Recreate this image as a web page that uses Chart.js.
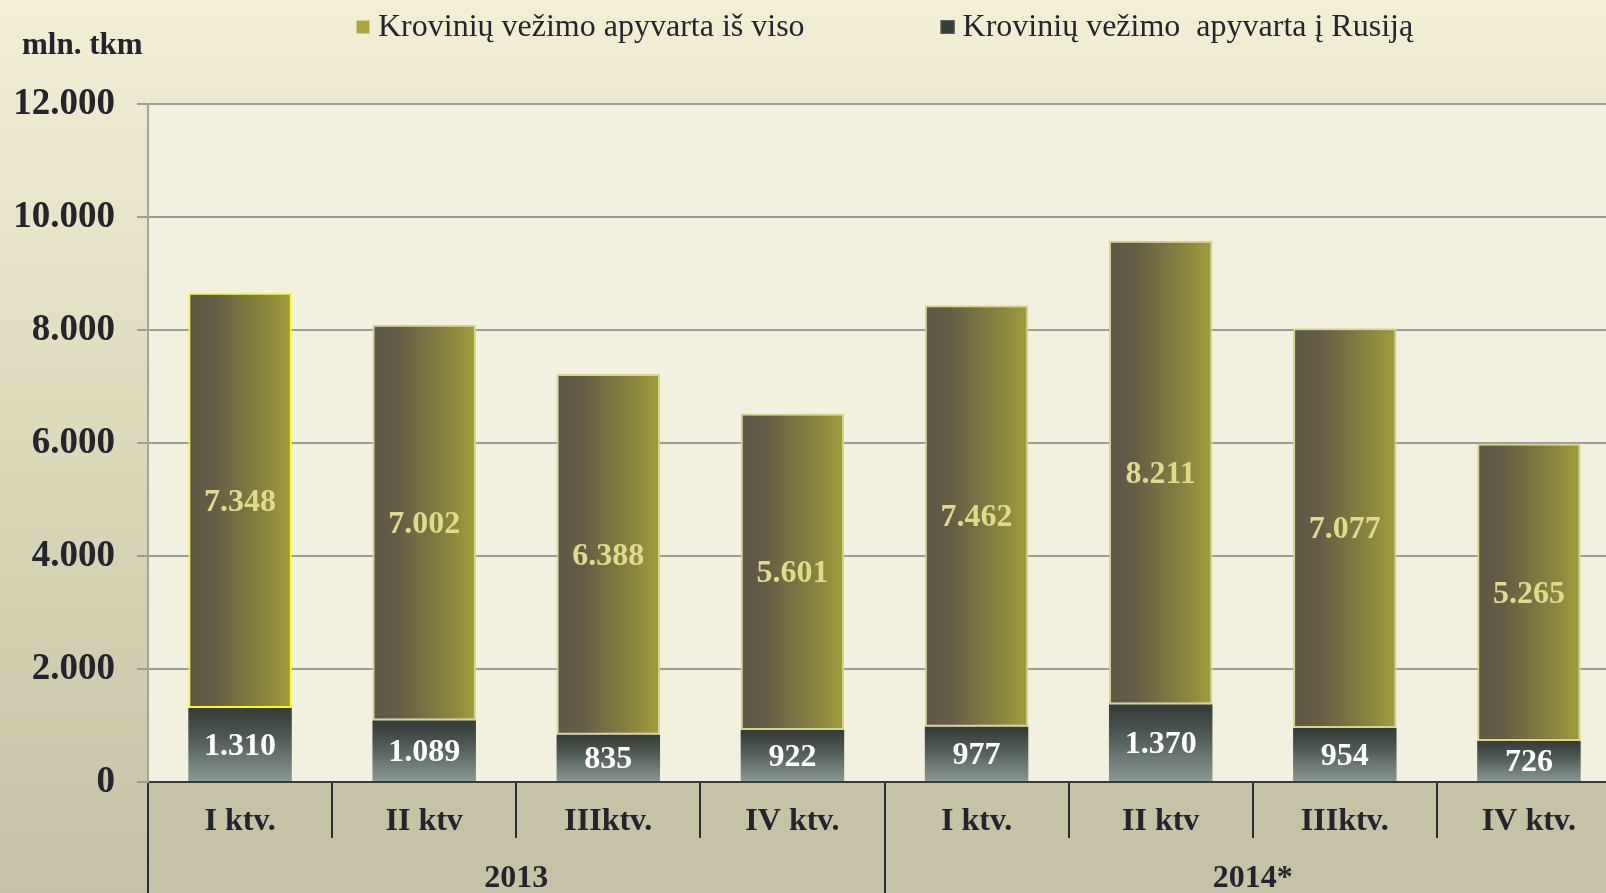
<!DOCTYPE html>
<html>
<head>
<meta charset="utf-8">
<script src="https://cdn.jsdelivr.net/npm/chart.js@4/dist/chart.umd.min.js"></script>
<style>
  html, body { margin: 0; padding: 0; overflow: hidden; background: #f2eed4; }
  #wrap { position: relative; width: 1640px; height: 893px; }
</style>
</head>
<body>
<div id="wrap"><canvas id="myChart"></canvas></div>
<script>
// Krovinių vežimo apyvarta, mln. tkm

const quarters = ['I ktv.', 'II ktv', 'IIIktv.', 'IV ktv.', 'I ktv.', 'II ktv', 'IIIktv.', 'IV ktv.'];
const years = ['2013', '2014*'];
const russia = [1310, 1089, 835, 922, 977, 1370, 954, 726];
const total = [7348, 7002, 6388, 5601, 7462, 8211, 7077, 5265];
const seriesNames = ['Krovinių vežimo  apyvarta į Rusiją', 'Krovinių vežimo apyvarta iš viso'];
const unitLabel = 'mln. tkm';

const SERIF = '"Liberation Serif", "Times New Roman", serif';
const BAR_PCT = 0.562;

function fmt(v) {
    return String(v).replace(/\B(?=(\d{3})+(?!\d))/g, '.');
}

function barBox(chart, index, from, to) {
    const xs = chart.scales.x, ys = chart.scales.y;
    const cx = xs.getPixelForValue(index);
    const w = (xs.width / quarters.length) * BAR_PCT;
    return {
        left: cx - w / 2, right: cx + w / 2,
        top: ys.getPixelForValue(to), bottom: ys.getPixelForValue(from)
    };
}

function oliveFill(ctx) {
    const chart = ctx.chart;
    if (!chart.chartArea || ctx.dataIndex === undefined) return '#8a8440';
    const i = ctx.dataIndex;
    const b = barBox(chart, i, russia[i], russia[i] + total[i]);
    const g = chart.ctx.createLinearGradient(b.left, 0, b.right, 0);
    g.addColorStop(0, '#5e5746');
    g.addColorStop(0.25, '#645d45');
    g.addColorStop(0.65, '#837d41');
    g.addColorStop(1, '#a19d3b');
    return g;
}

function darkFill(ctx) {
    const chart = ctx.chart;
    if (!chart.chartArea || ctx.dataIndex === undefined) return '#3a403c';
    const i = ctx.dataIndex;
    const b = barBox(chart, i, 0, russia[i]);
    const g = chart.ctx.createLinearGradient(0, b.top, 0, b.bottom);
    g.addColorStop(0, '#353b37');
    g.addColorStop(0.35, '#4b5551');
    g.addColorStop(1, '#8b9993');
    return g;
}

const backdrop = {
    id: 'backdrop',
    beforeDraw(chart) {
        const { ctx, width, height, chartArea } = chart;
        ctx.save();
        const g = ctx.createLinearGradient(0, 0, 0, height);
        g.addColorStop(0, '#f3efd5');
        g.addColorStop(0.5, '#dcd9bb');
        g.addColorStop(1, '#c4c1a4');
        ctx.fillStyle = g;
        ctx.fillRect(0, 0, width, height);
        ctx.fillStyle = '#f2f1df';
        ctx.fillRect(chartArea.left, chartArea.top, chartArea.right - chartArea.left, chartArea.bottom - chartArea.top);
        ctx.fillStyle = '#c5c2a5';
        ctx.fillRect(chartArea.left, chartArea.bottom, width - chartArea.left, height - chartArea.bottom);
        ctx.restore();
    }
};

const valueLabels = {
    id: 'valueLabels',
    afterDatasetsDraw(chart) {
        const ctx = chart.ctx;
        ctx.save();
        ctx.font = 'bold 32px ' + SERIF;
        ctx.textAlign = 'center';
        ctx.textBaseline = 'middle';
        chart.data.datasets.forEach((ds, di) => {
            const meta = chart.getDatasetMeta(di);
            meta.data.forEach((el, i) => {
                ctx.fillStyle = di === 0 ? '#ffffff' : '#e0da8d';
                ctx.fillText(fmt(ds.data[i]), el.x, (el.y + el.base) / 2 + 2);
            });
        });
        ctx.restore();
    }
};

const headerLegend = {
    id: 'headerLegend',
    afterDraw(chart) {
        const ctx = chart.ctx;
        ctx.save();
        ctx.fillStyle = '#24242e';
        ctx.textBaseline = 'middle';
        ctx.font = 'bold 31px ' + SERIF;
        ctx.fillText(unitLabel, 22, 46);

        ctx.font = '32px ' + SERIF;
        const items = [
            { text: seriesNames[1], fill: '#a9a63c', stroke: '#d3d08a' },
            { text: seriesNames[0], fill: '#363c38', stroke: '#5a605b' }
        ];
        let x = 356;
        items.forEach(item => {
            ctx.fillStyle = item.fill;
            ctx.fillRect(x, 20, 14, 14);
            ctx.strokeStyle = item.stroke;
            ctx.lineWidth = 1;
            ctx.strokeRect(x + 0.5, 20.5, 13, 13);
            ctx.fillStyle = '#24242e';
            ctx.fillText(item.text, x + 22, 28);
            x += 22 + ctx.measureText(item.text).width + 136;
        });
        ctx.restore();
    }
};

const ctx = document.getElementById('myChart').getContext('2d');

new Chart(ctx, {
    type: 'bar',
    data: {
        labels: quarters,
        datasets: [{
            label: seriesNames[0],
            data: russia,
            backgroundColor: darkFill,
            borderColor: '#3c423e',
            borderWidth: 0,
            barPercentage: BAR_PCT,
            categoryPercentage: 1.0
        }, {
            label: seriesNames[1],
            data: total,
            backgroundColor: oliveFill,
            borderColor: total.map((v, i) => i === 0 ? '#ffff00' : '#d8d488'),
            borderWidth: 2,
            borderSkipped: false,
            barPercentage: BAR_PCT,
            categoryPercentage: 1.0
        }]
    },
    options: {
        responsive: true,
        maintainAspectRatio: false,
        animation: false,
        layout: { padding: { top: 104, right: 19, left: 0, bottom: 0 } },
        plugins: {
            legend: { display: false },
            tooltip: { enabled: false }
        },
        scales: {
            x: {
                stacked: true,
                weight: 1,
                offset: true,
                grid: {
                    offset: true,
                    drawOnChartArea: false,
                    tickLength: 56,
                    color: '#2b2b33',
                    lineWidth: 2
                },
                border: { display: true, color: '#3a3a3e', width: 2 },
                ticks: {
                    font: { family: SERIF, size: 32, weight: 'bold' },
                    color: '#24242e',
                    padding: -35,
                    maxRotation: 0,
                    autoSkip: false
                },
                afterFit(scale) { scale.height = 56; }
            },
            x2: {
                type: 'category',
                labels: years,
                position: 'bottom',
                weight: 2,
                offset: true,
                grid: {
                    offset: true,
                    drawOnChartArea: false,
                    tickLength: 60,
                    color: '#2b2b33',
                    lineWidth: 2
                },
                border: { display: false },
                ticks: {
                    font: { family: SERIF, size: 32, weight: 'bold' },
                    color: '#24242e',
                    padding: -38,
                    maxRotation: 0
                },
                afterFit(scale) { scale.height = 55; }
            },
            y: {
                stacked: true,
                min: 0,
                max: 12000,
                grid: {
                    color: '#9b9b9b',
                    lineWidth: 2,
                    tickLength: 11
                },
                border: { display: true, color: '#a4a49a', width: 2 },
                ticks: {
                    stepSize: 2000,
                    padding: 22,
                    font: { family: SERIF, size: 37, weight: 'bold' },
                    color: '#24242e',
                    callback: v => fmt(v)
                },
                afterFit(scale) { scale.width = 148; }
            }
        }
    },
    plugins: [backdrop, valueLabels, headerLegend]
});
</script>
</body>
</html>
